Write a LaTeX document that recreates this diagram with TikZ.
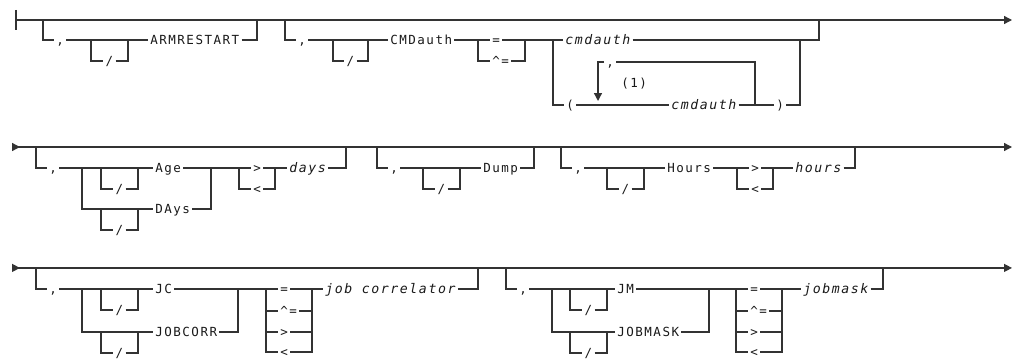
\documentclass[tikz,border=0pt]{standalone}
\usepackage{fontspec}
\setmonofont[LetterSpace=12]{DejaVu Sans Mono}
\usetikzlibrary{arrows.meta}
\tikzset{
  rail/.style={line width=1pt,draw=black!80},
  railend/.style={-{Triangle[length=6pt,width=6pt]}},
  railboth/.style={{Triangle[reversed,length=6pt,width=6pt]}-{Triangle[length=6pt,width=6pt]}},
  kw/.style={anchor=west,inner xsep=1.5pt,inner ysep=0pt,text height=7pt,text depth=0pt,
    font=\ttfamily\fontsize{9.4}{11}\selectfont,text=black!90},
  var/.style={kw,font=\ttfamily\itshape\fontsize{9.9}{11}\selectfont},
}
% 선택적 "/" 괄호: 왼쪽 x, 오른쪽 x, 선 y, 이름
\newcommand{\optslash}[4]{%
  \coordinate (#4l) at (#1,#3);
  \coordinate (#4r) at (#2,#3);
  \node[kw,anchor=center] (#4) at ({(#1+#2)/2},{#3+21}) {/};
  \draw[rail] (#4l) |- (#4.west);
  \draw[rail] (#4.east) -| (#4r);
}

\begin{document}
\begin{tikzpicture}[x=0.75pt,y=-0.75pt]
\useasboundingbox (0,0) rectangle (1013,360);
% 첫째 줄
\coordinate (r1s) at (16,20);
\coordinate (r1e) at (1012,20);
\draw[rail] (16,10) -- (16,30);
\draw[rail,railend] (r1s) -- (r1e);
% ARMRESTART
\coordinate (armL) at (43,20);
\coordinate (armR) at (257,20);
\node[kw] (c1) at (54,40) {,};
\node[kw] (armrestart) at (148,40) {ARMRESTART};
\draw[rail] (armL) |- (c1.west);
\draw[rail] (c1.east) -- (armrestart.west);
\draw[rail] (armrestart.east) -| (armR);
\optslash{91}{128}{40}{s1}
% CMDauth
\coordinate (cmdL) at (285,20);
\coordinate (cmdR) at (819,20);
\node[kw] (c2) at (296,40) {,};
\node[kw] (cmdauthkw) at (388,40) {CMDauth};
\draw[rail] (cmdL) |- (c2.west);
\draw[rail] (c2.east) -- (cmdauthkw.west);
\optslash{333}{368}{40}{s2}
\node[kw] (eq1) at (490,40) {=};
\node[kw] (neq1) at (490,61) {\textasciicircum=};
\coordinate (op1L) at (478,40);
\coordinate (op1R) at (525,40);
\draw[rail] (cmdauthkw.east) -- (eq1.west);
\draw[rail] (op1L) |- (neq1.west);
\draw[rail] (neq1.east) -| (op1R);
\node[var] (cmdauth) at (563,40) {cmdauth};
\draw[rail] (eq1.east) -- (cmdauth.west);
\draw[rail] (cmdauth.east) -| (cmdR);
% 괄호 안의 반복
\coordinate (chL) at (553,40);
\coordinate (chR) at (800,40);
\node[kw] (lp) at (564,105) {(};
\node[var] (cmdauthrep) at (669,105) {cmdauth};
\node[kw] (rp) at (774,105) {)};
\draw[rail] (chL) |- (lp.west);
\draw[rail] (lp.east) -- (cmdauthrep.west);
\draw[rail] (cmdauthrep.east) -- (rp.west);
\draw[rail] (rp.east) -| (chR);
\coordinate (repR) at (755,105);
\coordinate (repL) at (598,101);
\node[kw] (c3) at (604,62) {,};
\node[kw] (note1) at (619,83) {(1)};
\draw[rail] (repR) |- (c3.east);
\draw[rail,railend] (c3.west) -| (repL);

% 둘째 줄
\coordinate (r2s) at (12,147);
\coordinate (r2e) at (1012,147);
\draw[rail,railboth] (r2s) -- (r2e);
% Age / DAys
\coordinate (ageL) at (36,147);
\coordinate (ageR) at (346,147);
\node[kw] (c4) at (47,168) {,};
\node[kw] (age) at (153,168) {Age};
\node[kw] (dayskw) at (153,209) {DAys};
\draw[rail] (ageL) |- (c4.west);
\draw[rail] (c4.east) -- (age.west);
\optslash{101}{138}{168}{s3}
\coordinate (ad1) at (82,168);
\coordinate (ad2) at (211,168);
\draw[rail] (ad1) |- (dayskw.west);
\draw[rail] (dayskw.east) -| (ad2);
\optslash{101}{138}{209}{s4}
\node[kw] (gt1) at (251,168) {>};
\node[kw] (lt1) at (251,189) {<};
\coordinate (op2L) at (239,168);
\coordinate (op2R) at (275,168);
\draw[rail] (age.east) -- (gt1.west);
\draw[rail] (op2L) |- (lt1.west);
\draw[rail] (lt1.east) -| (op2R);
\node[var] (days) at (287,168) {days};
\draw[rail] (gt1.east) -- (days.west);
\draw[rail] (days.east) -| (ageR);
% Dump
\coordinate (dumpL) at (377,147);
\coordinate (dumpR) at (534,147);
\node[kw] (c5) at (388,168) {,};
\node[kw] (dump) at (481,168) {Dump};
\draw[rail] (dumpL) |- (c5.west);
\draw[rail] (c5.east) -- (dump.west);
\draw[rail] (dump.east) -| (dumpR);
\optslash{423}{460}{168}{s5}
% Hours
\coordinate (hrsL) at (561,147);
\coordinate (hrsR) at (855,147);
\node[kw] (c6) at (572,168) {,};
\node[kw] (hourskw) at (665,168) {Hours};
\draw[rail] (hrsL) |- (c6.west);
\draw[rail] (c6.east) -- (hourskw.west);
\optslash{607}{644}{168}{s6}
\node[kw] (gt2) at (749,168) {>};
\node[kw] (lt2) at (749,189) {<};
\coordinate (op3L) at (737,168);
\coordinate (op3R) at (773,168);
\draw[rail] (hourskw.east) -- (gt2.west);
\draw[rail] (op3L) |- (lt2.west);
\draw[rail] (lt2.east) -| (op3R);
\node[var] (hours) at (793,168) {hours};
\draw[rail] (gt2.east) -- (hours.west);
\draw[rail] (hours.east) -| (hrsR);

% 셋째 줄
\begin{scope}[yshift=3.8pt]
\coordinate (r3s) at (12,273);
\coordinate (r3e) at (1012,273);
\draw[rail,railboth] (r3s) -- (r3e);
% JC / JOBCORR
\coordinate (jcL) at (36,273);
\coordinate (jcR) at (478,273);
\node[kw] (c7) at (47,294) {,};
\node[kw] (jc) at (153,294) {JC};
\node[kw] (jobcorr) at (153,337) {JOBCORR};
\draw[rail] (jcL) |- (c7.west);
\draw[rail] (c7.east) -- (jc.west);
\optslash{101}{138}{294}{s7}
\coordinate (jj1) at (82,294);
\coordinate (jj2) at (238,294);
\draw[rail] (jj1) |- (jobcorr.west);
\draw[rail] (jobcorr.east) -| (jj2);
\optslash{101}{138}{337}{s8}
\node[kw] (eq2) at (278,294) {=};
\node[kw] (neq2) at (278,316) {\textasciicircum=};
\node[kw] (gt3) at (278,337) {>};
\node[kw] (lt3) at (278,357) {<};
\coordinate (op4L) at (266,294);
\coordinate (op4R) at (312,294);
\draw[rail] (jc.east) -- (eq2.west);
\draw[rail] (op4L) |- (lt3.west);
\draw[rail] (op4L) |- (neq2.west);
\draw[rail] (op4L) |- (gt3.west);
\draw[rail] (lt3.east) -| (op4R);
\draw[rail] (neq2.east) -| (op4R);
\draw[rail] (gt3.east) -| (op4R);
\node[var] (jobcorrelator) at (323,294) {job correlator};
\draw[rail] (eq2.east) -- (jobcorrelator.west);
\draw[rail] (jobcorrelator.east) -| (jcR);
% JM / JOBMASK
\coordinate (jmL) at (506,273);
\coordinate (jmR) at (883,273);
\node[kw] (c8) at (517,294) {,};
\node[kw] (jm) at (615,294) {JM};
\node[kw] (jobmaskkw) at (615,337) {JOBMASK};
\draw[rail] (jmL) |- (c8.west);
\draw[rail] (c8.east) -- (jm.west);
\optslash{570}{607}{294}{s9}
\coordinate (jm1) at (552,294);
\coordinate (jm2) at (709,294);
\draw[rail] (jm1) |- (jobmaskkw.west);
\draw[rail] (jobmaskkw.east) -| (jm2);
\optslash{570}{607}{337}{s10}
\node[kw] (eq3) at (748,294) {=};
\node[kw] (neq3) at (748,316) {\textasciicircum=};
\node[kw] (gt4) at (748,337) {>};
\node[kw] (lt4) at (748,357) {<};
\coordinate (op5L) at (736,294);
\coordinate (op5R) at (782,294);
\draw[rail] (jm.east) -- (eq3.west);
\draw[rail] (op5L) |- (lt4.west);
\draw[rail] (op5L) |- (neq3.west);
\draw[rail] (op5L) |- (gt4.west);
\draw[rail] (lt4.east) -| (op5R);
\draw[rail] (neq3.east) -| (op5R);
\draw[rail] (gt4.east) -| (op5R);
\node[var] (jobmask) at (801,294) {jobmask};
\draw[rail] (eq3.east) -- (jobmask.west);
\draw[rail] (jobmask.east) -| (jmR);
\end{scope}
\end{tikzpicture}
\end{document}
